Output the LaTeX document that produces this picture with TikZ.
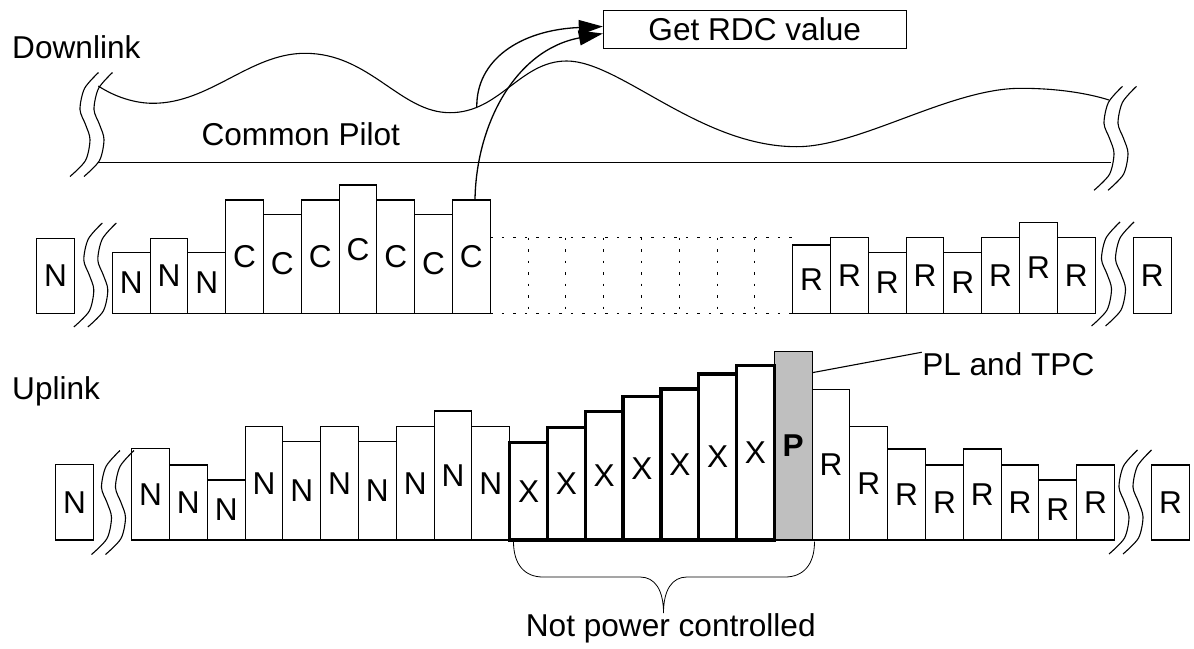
\documentclass[tikz,border=0pt]{standalone}
\usepackage{fontspec}
\setmainfont{Liberation Sans}
\usetikzlibrary{arrows.meta}

\tikzset{
	bar/.style = {draw, anchor = south west, inner sep = 0pt, outer sep = 0pt, minimum width = 37.8pt},
	thickbar/.style = {bar, line width = 3.3pt},
	dots/.style = {dash pattern = on 2.5pt off 9pt},
	brk/.pic = {
		\draw plot[smooth] coordinates {(-21.5,52) (-6,36) (-1.5,15) (-6,0) (-11.5,-15) (-7,-36) (7,-52)};
		\draw plot[smooth] coordinates {(-7.5,52) (8,36) (12.5,15) (8,0) (2.5,-15) (7,-36) (21,-52)};
	}
}

\begin{document}
\begin{tikzpicture}[x = 1pt, y = -1pt, line width = 1.1pt, font = \fontsize{31.6}{38}\selectfont]
				\useasboundingbox (0,0) rectangle (1194,648);
				
				% break marks
				\pic at (91.5,124.5) {brk};
				\pic at (1115.5,138.3) {brk};
				\pic at (95.3,275) {brk};
				\pic at (1113,274) {brk};
				\pic at (113,502.5) {brk};
				\pic at (1130.5,502) {brk};
				
				% downlink
				\draw (98.3,86) .. controls (115,97) and (135,103.3) .. (153,103.3)
					.. controls (210,103.3) and (250,53.3) .. (305,53.3)
					.. controls (370,53.3) and (400,112.7) .. (450,112.7)
					.. controls (500,112.7) and (520,61) .. (566.7,61)
					.. controls (620,61) and (700,146.7) .. (796.7,146.7)
					.. controls (860,146.7) and (950,88.3) .. (1020.7,88.3)
					.. controls (1060,88.3) and (1090,94) .. (1109,100);
				\coordinate (tap) at (476.8,107.3);
				\draw (98.3,162.3) -- (1110.7,162.3);
				\node[anchor = base west, inner sep = 0pt] (dl) at (11.7,58.3) {Downlink};
				\node[anchor = base, inner sep = 0pt] (cp) at (300.8,145) {Common Pilot};
				\node[draw, minimum width = 302.7pt, minimum height = 37.6pt, inner sep = 0pt] (rdc) at (754.7,29.5) {Get RDC value};
				
				\node[bar, minimum height = 75pt] (dn) at (36.7,313.3) {N};
				\foreach \lbl/\h [count = \k from 0] in {N/60.6, N/75, N/60.6, C/113.3, C/99, C/113.3, C/128.3, C/113.3, C/99, C/113.3}
					\node[bar, minimum height = \h*1pt] (d\k) at (112.3+37.8*\k, 313.3) {\lbl};
				\foreach \h [count = \k from 18] in {68.3, 75.6, 60.6, 75.6, 60.6, 75.6, 91, 75.6}
					\node[bar, minimum height = \h*1pt] (d\k) at (112.3+37.8*\k, 313.3) {R};
				\node[bar, minimum height = 75.6pt] (dr) at (1133.3,313.3) {R};
				
				\draw[dots] (d9.north east |- d19.north) -- (d18.south west |- d19.north);
				\draw[dots] (d9.south east) -- (d18.south west);
				\foreach \k in {11,...,17}
					\draw[dots] (112.3+37.8*\k, 237.7) -- (112.3+37.8*\k, 313.3);
				
				% arrows
				\draw[line width = 1.3pt, -{Triangle[length = 24pt, width = 15pt]}] (tap) .. controls (476,60) and (520,30) .. ([yshift = 3pt]rdc.west);
				\draw[line width = 1.3pt, -{Triangle[length = 24pt, width = 15pt]}] ([xshift = 3.6pt]d9.north) .. controls (476,125) and (515,50) .. ([yshift = -4pt]rdc.west);
				
				% uplink
				\node[anchor = base west, inner sep = 0pt] (ul) at (11.7,399.3) {Uplink};
				\node[bar, minimum height = 75.7pt] (un) at (55.7,540) {N};
				\foreach \h [count = \k from 0] in {91.3, 75, 60, 113.3, 98.3, 113.3, 98.3, 113.3, 129, 113.3}
					\node[bar, minimum height = \h*1pt] (u\k) at (131.7+37.8*\k, 540) {N};
				\node[bar, fill = gray!50, minimum height = 188.3pt] (p) at (774.3,540) {\textbf{P}};
				\foreach \h [count = \k from 10] in {97.7, 112.7, 128.3, 143.3, 151, 166, 174.3}
					\node[thickbar, minimum height = \h*1pt] (u\k) at (131.7+37.8*\k, 540) {X};
				\foreach \h [count = \k from 18] in {150.7, 113.3, 91, 75, 91, 75, 60, 75}
					\node[bar, minimum height = \h*1pt] (u\k) at (131.7+37.8*\k, 540) {R};
				\node[bar, minimum height = 75pt] (ur) at (1151.7,540) {R};
				
				\node[anchor = base west, inner sep = 0pt] (pl) at (921.7,375.7) {PL and TPC};
				\draw ([yshift = -21pt]p.north east) -- (pl.north west);
				
				% brace
				\draw[line width = 0.8pt] (513.5,541.7) .. controls (513.5,565) and (525,577) .. (543,577) -- (640,577)
					.. controls (655,577) and (663.5,590) .. (663.5,613)
					.. controls (663.5,590) and (672,577) .. (687,577) -- (785,577)
					.. controls (803,577) and (814.5,565) .. (814.5,541.7);
				\node[anchor = base, inner sep = 0pt] (npc) at (670.8,636.7) {Not power controlled};
				
			\end{tikzpicture}
\end{document}
